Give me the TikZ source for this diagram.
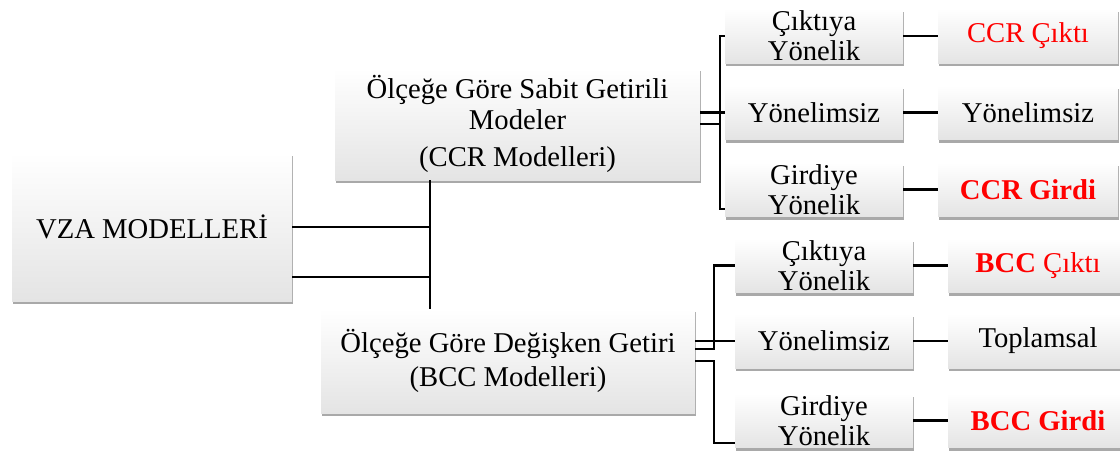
\documentclass[tikz,border=0pt]{standalone}
\usepackage{fontspec}
\setmainfont{Liberation Serif}
\usepackage{xcolor}
\usetikzlibrary{shadows}
\definecolor{kirmizi}{RGB}{255,0,0}
\definecolor{kutualt}{RGB}{228,228,228}
\tikzset{kutu/.style={inner sep=0pt,align=center,top color=white,bottom color=kutualt,drop shadow={shadow xshift=0.5pt,shadow yshift=-2.6pt,opacity=.45,fill=black!75},font=\fontsize{21.5}{22.5}\selectfont},bag/.style={line width=1.9pt}}

\begin{document}
\begin{tikzpicture}[x=0.75pt,y=-0.75pt,kucuk/.style={kutu,minimum width=133.5pt,minimum height=40.5pt},sonuc/.style={kutu,minimum width=135pt,minimum height=40.5pt}]
\useasboundingbox (0,0) rectangle (1120,450);
\node[kutu,minimum width=210pt,minimum height=111pt] (vza) at (152,227) {VZA MODELLER\.I};
\node[kutu,minimum width=273.75pt,minimum height=84pt,font=\fontsize{21.5}{23}\selectfont] (ccr) at (517.5,124) {Ölçeğe Göre Sabit Getirili\\Modeler\\[4.5pt](CCR Modelleri)};
\node[kutu,minimum width=280.5pt,minimum height=78pt,font=\fontsize{21.5}{26}\selectfont] (bcc) at (508,361) {Ölçeğe Göre Değişken Getiri\\(BCC Modelleri)};
% CCR kolu
\node[kucuk] (cc) at (814,36) {Çıktıya\\Yönelik};
\node[kucuk] (cy) at (814,112.5) {Yönelimsiz};
\node[kucuk] (cg) at (814,189.5) {Girdiye\\Yönelik};
\node[sonuc] (rcc) at (1028,36) {\textcolor{kirmizi}{CCR Çıktı}};
\node[sonuc] (rcy) at (1028,112.5) {Yönelimsiz};
\node[sonuc] (rcg) at (1028,189.5) {\textcolor{kirmizi}{\bfseries CCR Girdi}};
% BCC kolu
\node[kucuk] (bc) at (824,265.5) {Çıktıya\\Yönelik};
\node[kucuk] (by) at (824,341) {Yönelimsiz};
\node[kucuk] (bg) at (824,420.5) {Girdiye\\Yönelik};
\node[sonuc] (rbc) at (1038,265.5) {\textcolor{kirmizi}{\textbf{BCC} Çıktı}};
\node[sonuc] (rby) at (1038,341) {Toplamsal};
\node[sonuc] (rbg) at (1038,420.5) {\textcolor{kirmizi}{\bfseries BCC Girdi}};
\coordinate (govde) at (430,0);
\coordinate (yolA) at (720,0);
\coordinate (yolB) at (714,0);
\coordinate (vzak) at ([yshift=-37.5pt]vza.east);
\coordinate (cgk) at ([yshift=-14.6pt]cg.west);
\coordinate (bck) at ([yshift=9pt]bcc.east);
\coordinate (bgk) at ([yshift=-16.9pt]bg.west);
\draw[bag] (vza.east) -- (vza.east -| govde);
\draw[bag] (vzak) -- (vzak -| govde);
\draw[bag] (ccr.south -| govde) -- (bcc.north -| govde);
\draw[bag] (ccr.east |- cy.west) -- (cy.west);
\draw[bag] (ccr.east) -| (yolA |- cc.west) -- (cc.west);
\draw[bag] (ccr.east) -| (yolA |- cgk) -- (cgk);
\draw[bag] (bcc.east |- by.west) -- (by.west);
\draw[bag] (bck) -| (yolB |- bc.west) -- (bc.west);
\draw[bag] (bcc.east) -| (yolB |- bgk) -- (bgk);
\foreach \a/\b in {cc/rcc,cy/rcy,cg/rcg,bc/rbc,by/rby,bg/rbg}{\draw[bag] (\a) -- (\b);}
\end{tikzpicture}
\end{document}
